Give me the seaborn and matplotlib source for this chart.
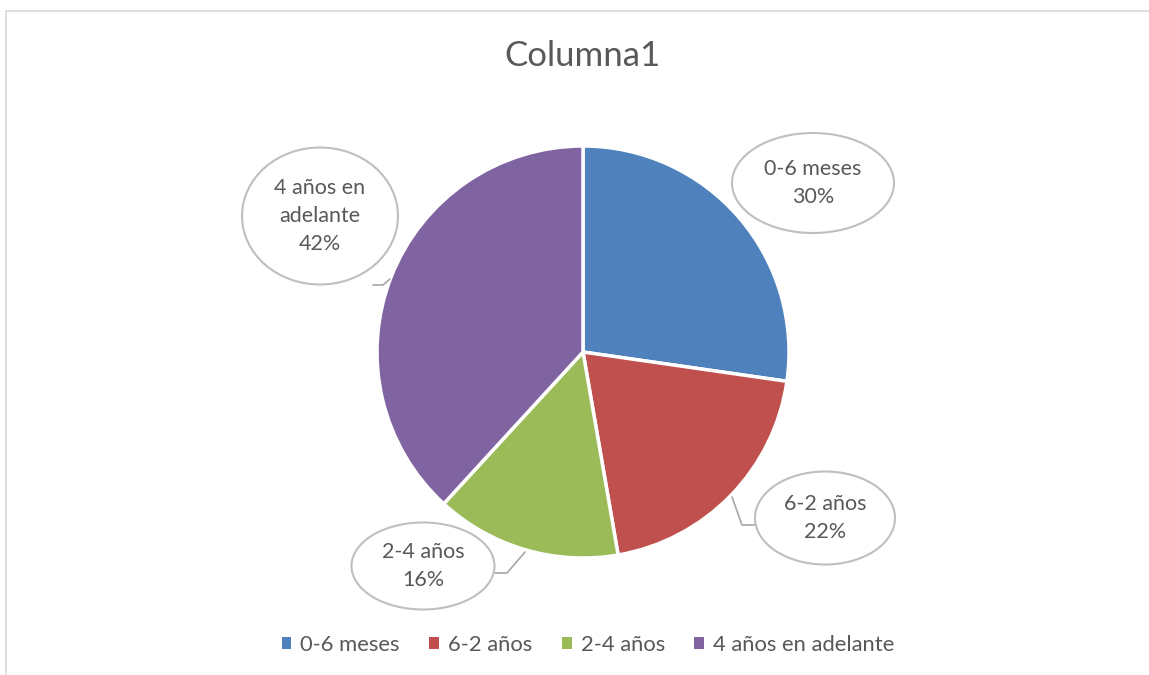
import numpy as np
import matplotlib.pyplot as plt
import seaborn as sns
from matplotlib.patches import Ellipse, Patch
from matplotlib.lines import Line2D

# data (labels show the raw values as percent)
categories = ['0-6 meses', '6-2 años', '2-4 años', '4 años en adelante']
values = [0.30, 0.22, 0.16, 0.42]
label_text = ['0-6 meses\n30%', '6-2 años\n22%', '2-4 años\n16%', '4 años en\nadelante\n42%']
colors = sns.color_palette(['#4F81BD', '#C0504D', '#9BBB59', '#8064A2'])

sns.set_theme(style='white')
plt.rcParams['font.family'] = ['Lato', 'DejaVu Sans']
txt = '#595959'

W, H = 1149, 675
fig = plt.figure(figsize=(W / 100, H / 100), dpi=100)
ax = fig.add_axes([0, 0, 1, 1])

# pie in pixel space (y measured upward)
cx, cy, r = 583, H - 352, 206
ax.pie(values, colors=colors, startangle=90, counterclock=False,
       center=(cx, cy), radius=r,
       wedgeprops=dict(edgecolor='white', linewidth=2.5))
ax.set_xlim(0, W)
ax.set_ylim(0, H)
ax.set_aspect('equal')
ax.axis('off')

# callout ellipses: center x, center y (from top), width, height
bubbles = [(813, 183, 162, 100), (825, 518, 140, 93),
           (423, 566, 143, 87), (320, 216, 156, 137)]
for (bx, by, bw, bh), t in zip(bubbles, label_text):
    ax.add_patch(Ellipse((bx, H - by), bw, bh, facecolor='white',
                         edgecolor='#BFBFBF', linewidth=1.5, zorder=3))
    ax.text(bx, H - by, t, ha='center', va='center', fontsize=15.5,
            color=txt, linespacing=1.5, zorder=4)

# leader lines
leaders = [
    ([732, 742, 755], [497, 525, 525]),
    ([525, 507, 495], [552, 573, 573]),
    ([390, 383, 373], [279, 285, 285]),
]
for xs, ys in leaders:
    ax.plot(xs, [H - y for y in ys], color='#A6A6A6', linewidth=1.2, zorder=2)

ax.text(583, H - 56, 'Columna1', ha='center', va='center', fontsize=25, color=txt)

handles = [Patch(facecolor=c, edgecolor='none') for c in colors]
leg = ax.legend(handles, categories, loc='center', ncol=4,
                bbox_to_anchor=(588 / W, 1 - 645 / H), frameon=False,
                fontsize=15.8, handlelength=0.45, handleheight=0.45,
                handletextpad=0.4, columnspacing=1.35)
for t in leg.get_texts():
    t.set_color(txt)

# chart area border (top and left visible)
fig.add_artist(Line2D([6 / W, 1], [1 - 11 / H, 1 - 11 / H], color='#D9D9D9', linewidth=1.2))
fig.add_artist(Line2D([6 / W, 6 / W], [0, 1 - 11 / H], color='#D9D9D9', linewidth=1.2))

fig.savefig('out.png', dpi=100, facecolor='white')
